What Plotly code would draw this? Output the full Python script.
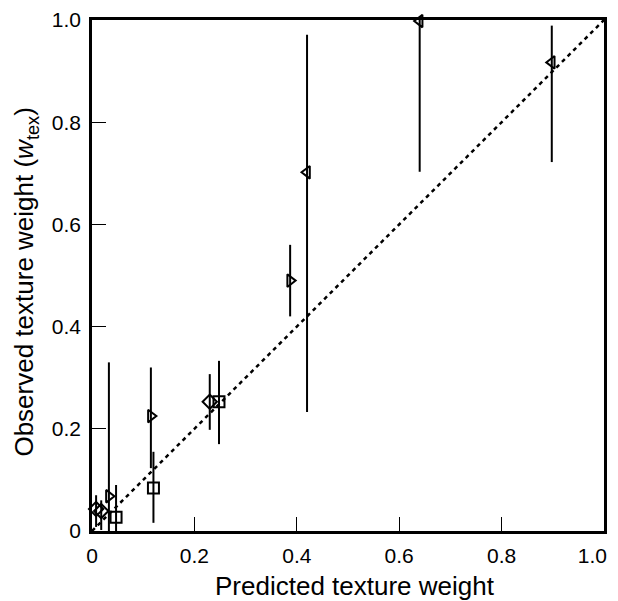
import plotly.graph_objects as go

# Data
diamond_x = [0.008, 0.018, 0.230]
diamond_y = [0.043, 0.039, 0.253]
diamond_hi = [0.070, 0.060, 0.307]
diamond_lo = [0.008, 0.002, 0.198]

tri_r_x = [0.033, 0.115, 0.387]
tri_r_y = [0.068, 0.225, 0.490]
tri_r_hi = [0.330, 0.320, 0.560]
tri_r_lo = [0.000, 0.123, 0.420]

square_x = [0.047, 0.120, 0.248]
square_y = [0.027, 0.084, 0.253]
square_hi = [0.090, 0.155, 0.333]
square_lo = [0.000, 0.016, 0.170]

tri_l_x = [0.420, 0.640, 0.898]
tri_l_y = [0.702, 0.998, 0.917]
tri_l_hi = [0.971, 1.000, 0.989]
tri_l_lo = [0.233, 0.703, 0.722]

ref_x = [0.0, 1.0]
ref_y = [0.0, 1.0]

tick_vals = [0, 0.2, 0.4, 0.6, 0.8, 1.0]
tick_text = ["0", "0.2", "0.4", "0.6", "0.8", "1.0"]
# last x label sits a little left of its tick so it stays inside the page
x_tick_text = tick_text[:-1] + [tick_text[-1] + "\u00a0" * 4]

x_title = "Predicted texture weight"
y_title = "Observed texture weight (<i>w</i><sub>tex</sub>)"

FONT = "Liberation Sans, Arial, sans-serif"

fig = go.Figure()
fig.add_trace(go.Scatter(x=ref_x, y=ref_y, mode="lines",
                         line=dict(color="black", width=2.5, dash="4px,4px"),
                         hoverinfo="skip", showlegend=False))

def add_series(xs, ys, hi, lo, symbol):
    fig.add_trace(go.Scatter(
        x=xs, y=ys, mode="markers", showlegend=False,
        marker=dict(symbol=symbol, size=11, color="black",
                    line=dict(color="black", width=2)),
        error_y=dict(type="data", symmetric=False,
                     array=[h - y for h, y in zip(hi, ys)],
                     arrayminus=[y - l for y, l in zip(ys, lo)],
                     width=0, thickness=2, color="black"),
        cliponaxis=False))

add_series(diamond_x, diamond_y, diamond_hi, diamond_lo, "diamond-open")
add_series(tri_r_x, tri_r_y, tri_r_hi, tri_r_lo, "triangle-right-open")
add_series(square_x, square_y, square_hi, square_lo, "square-open")
add_series(tri_l_x, tri_l_y, tri_l_hi, tri_l_lo, "triangle-left-open")

axis_common = dict(range=[0, 1], tickvals=tick_vals,
                   ticks="inside", ticklen=14, tickwidth=1, tickcolor="black",
                   showline=True, linewidth=2.5, linecolor="black", mirror=True,
                   showgrid=False, zeroline=False, automargin=False,
                   ticklabeloverflow="allow", ticklabelstandoff=4,
                   tickfont=dict(family=FONT, size=21, color="black"))

# the page body adds an 8px offset, so the figure is sized/margined for it
fig.update_layout(
    width=614, height=593,
    margin=dict(l=84, r=18, t=12, b=70),
    paper_bgcolor="white", plot_bgcolor="white",
    xaxis=dict(**axis_common, ticktext=x_tick_text),
    yaxis=dict(**axis_common, ticktext=tick_text),
    annotations=[
        dict(text=x_title, xref="paper", yref="paper", x=0.513, y=-0.108,
             xanchor="center", yanchor="middle", showarrow=False,
             font=dict(family=FONT, size=26, color="black")),
        dict(text=y_title, xref="paper", yref="paper", x=-0.13, y=0.487,
             xanchor="center", yanchor="middle", showarrow=False, textangle=-90,
             font=dict(family=FONT, size=26, color="black")),
    ],
)

fig.write_html("out.html")
